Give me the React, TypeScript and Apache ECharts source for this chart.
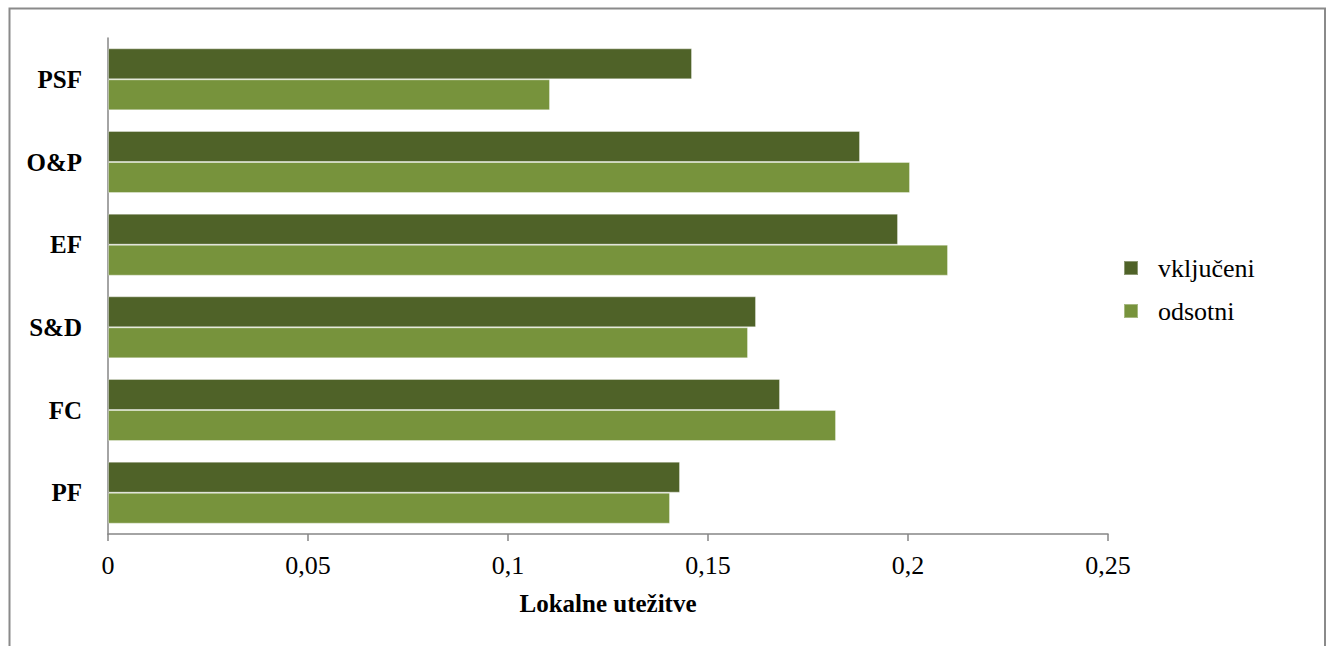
import React, { useEffect, useRef } from "react";
import * as echarts from "echarts";

const categories = ["PSF", "O&P", "EF", "S&D", "FC", "PF"];
const vkljuceni = [0.146, 0.188, 0.1975, 0.162, 0.168, 0.143];
const odsotni = [0.1105, 0.2005, 0.21, 0.16, 0.182, 0.1405];
const seriesNames = ["vključeni", "odsotni"];
const xTicks = { min: 0, max: 0.25, interval: 0.05 };

export default function App() {
  const ref = useRef<HTMLDivElement>(null);
  useEffect(() => {
    if (!ref.current) return;
    const chart = echarts.init(ref.current, null, { renderer: "svg" });
    const font = "'Liberation Serif', 'Times New Roman', serif";
    chart.setOption({
      animation: false,
      backgroundColor: "#ffffff",
      textStyle: { fontFamily: font },
      graphic: [
        {
          type: "rect",
          shape: { x: 9.5, y: 8.5, width: 1315.5, height: 700 },
          style: { fill: "none", stroke: "#8a8a8a", lineWidth: 2 },
          silent: true,
        },
      ],
      grid: { left: 108, right: 222, top: 38, bottom: 112, containLabel: false },
      legend: {
        orient: "vertical",
        left: 1118,
        top: 250,
        itemWidth: 14,
        itemHeight: 14,
        itemGap: 17,
        icon: "rect",
        data: seriesNames,
        textStyle: { fontFamily: font, fontSize: 26, color: "#000", padding: [0, 0, 0, 15] },
      },
      xAxis: {
        type: "value",
        min: xTicks.min,
        max: xTicks.max,
        interval: xTicks.interval,
        name: "Lokalne utežitve",
        nameLocation: "middle",
        nameGap: 57,
        nameTextStyle: { fontFamily: font, fontSize: 25, fontWeight: "bold", color: "#000" },
        axisLine: { show: true, lineStyle: { color: "#868686", width: 1.5 } },
        axisTick: { show: true, length: 7, lineStyle: { color: "#868686", width: 1.5 } },
        splitLine: { show: false },
        axisLabel: {
          fontFamily: font,
          fontSize: 26,
          color: "#000",
          margin: 18,
          formatter: (v: number) => String(+v.toFixed(2)).replace(".", ","),
        },
      },
      yAxis: {
        type: "category",
        data: categories,
        inverse: true,
        axisLine: { show: true, lineStyle: { color: "#868686", width: 1.5 } },
        axisTick: { show: false },
        axisLabel: { fontFamily: font, fontSize: 25, fontWeight: "bold", color: "#000", margin: 26 },
      },
      series: [
        {
          name: seriesNames[0],
          type: "bar",
          data: vkljuceni,
          barGap: "0%",
          barCategoryGap: "25%",
          itemStyle: { color: "#4f6228", borderColor: "rgba(255,255,255,0.35)", borderWidth: 1 },
        },
        {
          name: seriesNames[1],
          type: "bar",
          data: odsotni,
          barGap: "0%",
          barCategoryGap: "25%",
          itemStyle: { color: "#77933c", borderColor: "rgba(255,255,255,0.35)", borderWidth: 1 },
        },
      ],
    });
    return () => chart.dispose();
  }, []);
  return (
    <div
      ref={ref}
      style={{ position: "fixed", left: 0, top: 0, width: 1330, height: 646 }}
    />
  );
}
